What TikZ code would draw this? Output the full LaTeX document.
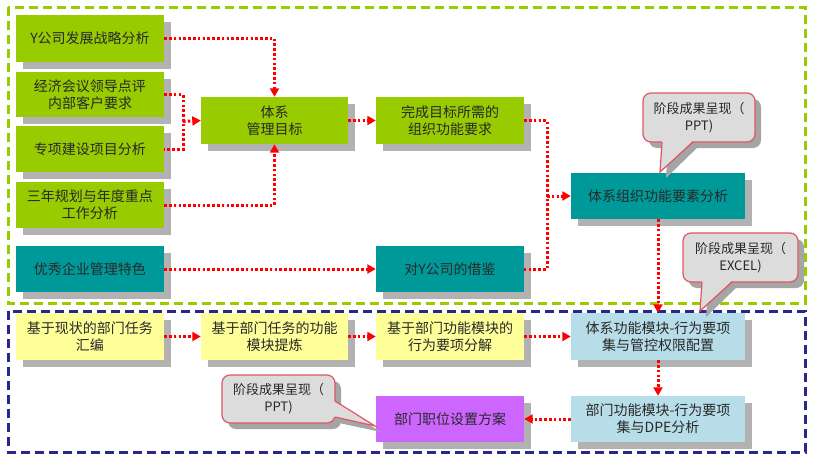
\documentclass[tikz,border=0pt]{standalone}
\usepackage{fontspec}
\setmainfont{Noto Sans CJK SC}
\usetikzlibrary{arrows.meta,shadows}
\definecolor{grn}{RGB}{153,204,0}
\definecolor{teal2}{RGB}{0,153,153}
\definecolor{yel}{RGB}{255,255,153}
\definecolor{lblue}{RGB}{183,222,232}
\definecolor{purp}{RGB}{204,102,255}
\definecolor{shd}{RGB}{178,178,178}
\definecolor{txt}{RGB}{40,40,40}
\definecolor{navy}{RGB}{40,40,140}
\definecolor{cfill}{RGB}{220,220,220}
\definecolor{cbrd}{RGB}{225,85,100}
\definecolor{cshd}{RGB}{165,165,165}
\tikzset{
  box/.style={draw=none, minimum width=148pt, minimum height=47pt, align=center,
    inner sep=2pt, font=\fontsize{14}{17}\selectfont, text=txt,
    drop shadow={shadow xshift=7pt, shadow yshift=-7pt, fill=shd, opacity=1}},
  wide/.style={minimum width=174pt},
  arr/.style={draw=red, line width=3pt, dash pattern=on 2.6pt off 2.2pt,
    -{Triangle[length=8.5pt,width=9pt]}},
  dl/.style={draw=red, line width=3pt, dash pattern=on 2.6pt off 2.2pt},
  frame/.style={line width=3pt, dash pattern=on 9pt off 5pt},
  cbub/.style={fill=cfill, draw=cbrd, line width=1.2pt, rounded corners=8pt},
  cedge/.style={draw=cbrd, line width=1.2pt},
  ctext/.style={align=center, font=\fontsize{13}{17}\selectfont, text=txt, inner sep=0pt}
}
\begin{document}
\begin{tikzpicture}[x=1pt,y=-1pt]
\useasboundingbox[fill=white] (0,0) rectangle (814,458);
% frames
\draw[frame, draw=grn] (8,7) rectangle (805,303);
\draw[frame, draw=navy] (8,311) rectangle (805,452);

% nodes upper part
\node[box, fill=grn] (y) at (90,38.5) {Y公司发展战略分析};
\node[box, fill=grn, minimum height=45pt] (jj) at (90,94.5) {经济会议领导点评\\内部客户要求};
\node[box, fill=grn, minimum height=46pt] (zx) at (90,149) {专项建设项目分析};
\node[box, fill=grn, minimum height=46pt] (sn) at (90,205) {三年规划与年度重点\\工作分析};
\node[box, fill=grn, minimum width=147pt] (tx) at (274.5,120.5) {体系\\管理目标};
\node[box, fill=grn] (wc) at (450,120.5) {完成目标所需的\\组织功能要求};
\node[box, wide, fill=teal2, minimum height=46pt] (zs) at (658,196) {体系组织功能要素分析};
\node[box, fill=teal2, minimum height=46pt] (yx) at (90,269) {优秀企业管理特色};
\node[box, fill=teal2, minimum height=46pt] (dy) at (450,269) {对Y公司的借鉴};

% nodes lower part
\node[box, fill=yel] (j1) at (90,336.5) {基于现状的部门任务\\汇编};
\node[box, fill=yel, minimum width=147pt] (j2) at (274.5,336.5) {基于部门任务的功能\\模块提炼};
\node[box, fill=yel] (j3) at (450,336.5) {基于部门功能模块的\\行为要项分解};
\node[box, wide, fill=lblue] (tg) at (658,336.5) {体系功能模块-行为要项\\集与管控权限配置};
\node[box, wide, fill=lblue, minimum height=46pt] (bm) at (658,419) {部门功能模块-行为要项\\集与DPE分析};
\node[box, fill=purp, minimum height=46pt] (zw) at (450,419) {部门职位设置方案};

% callout 1
\begin{scope}[shift={(6,6)}]
\fill[cshd, rounded corners=8pt] (643,93) rectangle (755,142);
\fill[cshd] (662,140) -- (660,172) -- (693,140) -- cycle;
\end{scope}
\path[cbub] (643,93) rectangle (755,142);
\fill[cfill] (662,140.5) -- (660,172) -- (693,140.5) -- cycle;
\draw[cedge] (662,142) -- (660,172) -- (693,142);
\node[ctext] (c1) at (699,117.5) {阶段成果呈现（\\PPT)};

% callout 2
\begin{scope}[shift={(6,6)}]
\fill[cshd, rounded corners=8pt] (683,233) rectangle (798,282);
\fill[cshd] (702,280) -- (700,311) -- (732,280) -- cycle;
\end{scope}
\path[cbub] (683,233) rectangle (798,282);
\fill[cfill] (702,280.5) -- (700,311) -- (732,280.5) -- cycle;
\draw[cedge] (702,282) -- (700,311) -- (732,282);
\node[ctext] (c2) at (740.5,257.5) {阶段成果呈现（\\EXCEL)};

% callout 3
\begin{scope}[shift={(6,6)}]
\fill[cshd, rounded corners=8pt] (222,375) rectangle (335,423);
\fill[cshd] (333,401) -- (375,426) -- (333,417) -- cycle;
\end{scope}
\path[cbub] (222,375) rectangle (335,423);
\fill[cfill] (333.5,401) -- (375,426) -- (333.5,417) -- cycle;
\draw[cedge] (335,401) -- (375,426) -- (335,417);
\node[ctext] (c3) at (278.5,399) {阶段成果呈现（\\PPT)};

% connectors
\coordinate (m1) at (183,121.5);
\coordinate (m2) at (547,196);
\draw[arr] (y.east) -| (tx.north);
\draw[arr] (sn.east) -| (tx.south);
\draw[dl] (jj.east) -| (m1) |- (zx.east);
\draw[arr] (m1) -- (tx.west);
\draw[arr] (tx.east) -- (wc.west);
\draw[dl] (wc.east) -| (m2) |- (dy.east);
\draw[arr] (m2) -- (zs.west);
\draw[arr] (yx.east) -- (dy.west);
\draw[arr] (zs.south) -- (tg.north);
\draw[arr] (j1.east) -- (j2.west);
\draw[arr] (j2.east) -- (j3.west);
\draw[arr] (j3.east) -- (tg.west);
\draw[arr] (tg.south) -- (bm.north);
\draw[arr] (bm.west) -- (zw.east);
\end{tikzpicture}
\end{document}
